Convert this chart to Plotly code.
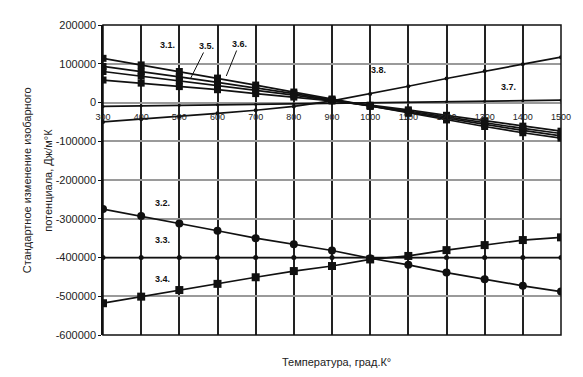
import plotly.graph_objects as go

# Temperature points (K) along the category axis
temps = [300, 400, 500, 600, 700, 800, 900, 1000, 1100, 1200, 1300, 1400, 1500]
x_tick_labels = ["300", "400", "500", "600", "700", "800", "900", "1000",
                 "1100", "1200", "1300", "1400", "1500"]

y_ticks = [200000, 100000, 0, -100000, -200000, -300000, -400000, -500000, -600000]
y_tick_labels = ["200000", "100000", "0", "-100000", "-200000", "-300000",
                 "-400000", "-500000", "-600000"]

# Upper group: falling lines
s31 = [114000, 97000, 80000, 63000, 45000, 27000, 9000, -10000, -28000, -45000, -62000, -78000, -92000]
s35 = [93000, 80000, 66000, 52000, 38000, 23000, 7000, -9000, -25000, -41000, -57000, -72000, -86000]
s36 = [80000, 68000, 56000, 44000, 31000, 19000, 5000, -8000, -22000, -37000, -52000, -67000, -80000]
s3x = [58000, 50000, 41000, 33000, 23000, 14000, 4000, -7000, -19000, -33000, -47000, -61000, -74000]

# Upper group: rising lines
s38 = [-50000, -43000, -36000, -28000, -20000, -10000, 4000, 22000, 42000, 62000, 81000, 99000, 117000]
s37 = [-10000, -8700, -7300, -6000, -4700, -3300, -2000, -700, 700, 2000, 3300, 4700, 6000]

# Lower group
s32 = [-275000, -293000, -312000, -331000, -350000, -366000, -382000, -402000, -419000, -439000, -456000, -473000, -488000]
s33 = [-400000, -400000, -400000, -400000, -400000, -400000, -400000, -400000, -400000, -400000, -400000, -400000, -400000]
s34 = [-518000, -501000, -484000, -468000, -451000, -435000, -422000, -405000, -396000, -381000, -368000, -355000, -348000]

series = [
    (s31, "square", 7),
    (s35, "square", 7),
    (s36, "square", 7),
    (s3x, "square", 7),
    (s38, "circle", 4),
    (s37, "circle", 3),
    (s32, "circle", 8),
    (s33, "circle", 5),
    (s34, "square", 8),
]

fig = go.Figure()
for vals, sym, size in series:
    fig.add_trace(go.Scatter(
        x=temps, y=vals, mode="lines+markers",
        line=dict(color="#111111", width=1.7),
        marker=dict(symbol=sym, size=size, color="#111111"),
        showlegend=False, hoverinfo="skip",
    ))

label_font = dict(family="Arial, Liberation Sans", size=9, color="#111111")

# Series labels
labels = [
    ("3.1.", 468, 148000),
    ("3.8.", 1023, 84000),
    ("3.7.", 1363, 39000),
    ("3.2.", 455, -259000),
    ("3.3.", 455, -355000),
    ("3.4.", 455, -455000),
]
for text, x, y in labels:
    fig.add_annotation(x=x, y=y, text="<b>%s</b>" % text, showarrow=False, font=label_font)

# Labels with leader lines
for text, x, y, ax, ay in [("3.5.", 530, 63200, 16, -32), ("3.6.", 623, 68400, 13, -32)]:
    fig.add_annotation(x=x, y=y, text="<b>%s</b>" % text, showarrow=True,
                       arrowhead=0, arrowwidth=1, arrowcolor="#111111",
                       ax=ax, ay=ay, font=label_font)

# Axis titles
fig.add_annotation(xref="paper", yref="paper", x=-0.183, y=0.5, textangle=-90,
                   text="Стандартное изменение изобарного", showarrow=False,
                   font=dict(family="Arial, Liberation Sans", size=11, color="#222222"))
fig.add_annotation(xref="paper", yref="paper", x=-0.138, y=0.5, textangle=-90,
                   text="потенциала, Дж/м°К", showarrow=False,
                   font=dict(family="Arial, Liberation Sans", size=11, color="#222222"))
fig.add_annotation(xref="paper", yref="paper", x=0.51, y=-0.088, yanchor="middle",
                   text="Температура, град.К°", showarrow=False,
                   font=dict(family="Arial, Liberation Sans", size=11, color="#222222"))

# Plot frame
fig.add_shape(type="rect", xref="paper", yref="paper", x0=0, y0=0, x1=1, y1=1,
              line=dict(color="#111111", width=1.5), layer="above")

fig.update_layout(
    width=583, height=377,
    margin=dict(l=103, r=15, t=25, b=42),
    paper_bgcolor="white", plot_bgcolor="white",
    xaxis=dict(
        range=[300, 1500], tickvals=temps, ticktext=x_tick_labels,
        showgrid=True, gridcolor="#222222", gridwidth=1.8,
        zeroline=False, showline=False,
        ticks="outside", ticklen=6, tickcolor="rgba(0,0,0,0)",
        anchor="free", position=0.75,
        tickfont=dict(family="Arial, Liberation Sans", size=9, color="#222222"),
    ),
    yaxis=dict(
        range=[-600000, 200000], tickvals=y_ticks, ticktext=y_tick_labels,
        showgrid=True, gridcolor="#9a9a9a", gridwidth=2,
        zeroline=False, showline=True, linecolor="#111111", linewidth=1.5,
        ticks="outside", ticklen=3, tickcolor="#111111",
        tickfont=dict(family="Arial, Liberation Sans", size=11, color="#222222"),
    ),
)

fig.write_html("out.html")
